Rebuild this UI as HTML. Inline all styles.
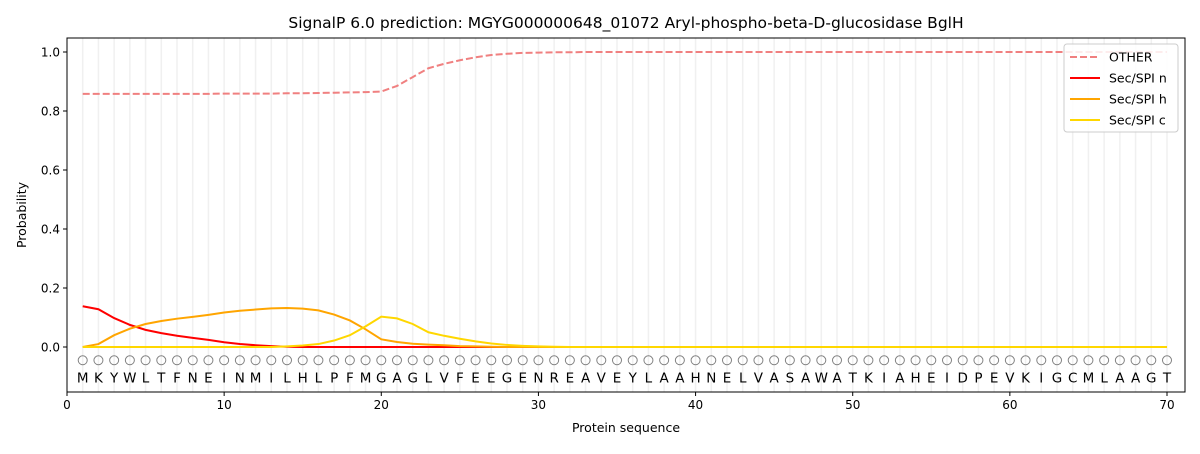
<!DOCTYPE html>
<html><head><meta charset="utf-8"><style>
body{margin:0;background:#fff;font-family:"DejaVu Sans","Liberation Sans",sans-serif}
</style></head><body>
<svg id="chart" width="1200" height="450" xmlns="http://www.w3.org/2000/svg" font-family="DejaVu Sans, Liberation Sans, sans-serif"></svg>
<script>
const residues="MKYWLTFNEINMILHLPFMGAGLVFEEGENREAVEYLAAHNELVASAWATKIAHEIDPEVKIGCMLAAGT".split("");
const otherVals=[0.858,0.858,0.858,0.858,0.858,0.858,0.858,0.858,0.858,0.859,0.859,0.859,0.859,0.86,0.86,0.861,0.862,0.863,0.864,0.866,0.885,0.915,0.945,0.96,0.972,0.982,0.99,0.994,0.997,0.998,0.999,0.999,1,1,1,1,1,1,1,1,1,1,1,1,1,1,1,1,1,1,1,1,1,1,1,1,1,1,1,1,1,1,1,1,1,1,1,1,1,1];
const secN=[0.138,0.128,0.098,0.075,0.058,0.047,0.038,0.031,0.024,0.016,0.01,0.006,0.003,0.001,0,0,0,0,0,0,0,0,0,0,0,0,0,0,0,0,0,0,0,0,0,0,0,0,0,0,0,0,0,0,0,0,0,0,0,0,0,0,0,0,0,0,0,0,0,0,0,0,0,0,0,0,0,0,0,0];
const secH=[0,0.01,0.04,0.062,0.078,0.088,0.096,0.102,0.109,0.117,0.123,0.127,0.131,0.132,0.13,0.124,0.11,0.09,0.06,0.026,0.017,0.011,0.008,0.006,0.003,0.002,0.001,0,0,0,0,0,0,0,0,0,0,0,0,0,0,0,0,0,0,0,0,0,0,0,0,0,0,0,0,0,0,0,0,0,0,0,0,0,0,0,0,0,0,0];
const secC=[0,0,0,0,0,0,0,0,0,0,0,0,0,0.002,0.005,0.01,0.022,0.04,0.07,0.103,0.097,0.078,0.05,0.038,0.028,0.019,0.012,0.007,0.004,0.002,0.001,0,0,0,0,0,0,0,0,0,0,0,0,0,0,0,0,0,0,0,0,0,0,0,0,0,0,0,0,0,0,0,0,0,0,0,0,0,0,0];
const xTicks=[0,10,20,30,40,50,60,70];
const yTicks=[0,0.2,0.4,0.6,0.8,1.0];
const NS="http://www.w3.org/2000/svg";
const svg=document.getElementById("chart");
const L=67,R=1185,T=38,B=392;
const X=v=>67+v*(1167-67)/70;
const Y=v=>347-v*295;
function el(tag,attrs,parent){const e=document.createElementNS(NS,tag);for(const k in attrs)e.setAttribute(k,attrs[k]);(parent||svg).appendChild(e);return e;}
const title=el("text",{x:626,y:28,"text-anchor":"middle","font-size":15.5,fill:"#000"});


title.textContent="SignalP 6.0 prediction: MGYG000000648_01072 Aryl-phospho-beta-D-glucosidase BglH";
residues.forEach((r,i)=>{
  const x=X(i+1);
  const g=el("line",{x1:x,x2:x,y1:T,y2:B,stroke:"#f0f0f0","stroke-width":1.5});
  
  
  const c=el("circle",{cx:x,cy:Y(-0.045),r:4.5,fill:"none",stroke:"#808080","stroke-width":1});
  
  
  const t=el("text",{x:x,y:Y(-0.1)+6,"text-anchor":"middle","font-size":13.5,fill:"#000"});
  
  
  t.textContent=r;
});
function line(vals,color,dash,name){
  const p=el("polyline",{points:vals.map((v,i)=>X(i+1)+","+Y(v)).join(" "),fill:"none",stroke:color,"stroke-width":2});
  if(dash)p.setAttribute("stroke-dasharray",dash);
  
  
}
line(otherVals,"#f08080","7,3","other-line");
line(secN,"#ff0000",null,"sec-spi-n-line");
line(secH,"#ffa500",null,"sec-spi-h-line");
line(secC,"#ffd700",null,"sec-spi-c-line");
const frame=el("rect",{x:L,y:T,width:R-L,height:B-T,fill:"none",stroke:"#000","stroke-width":1});


xTicks.forEach(v=>{
  el("line",{x1:X(v),x2:X(v),y1:B,y2:B+4,stroke:"#000"});
  const t=el("text",{x:X(v),y:B+17,"text-anchor":"middle","font-size":12});
  
  
  t.textContent=v;
});
yTicks.forEach(v=>{
  el("line",{x1:L-4,x2:L,y1:Y(v),y2:Y(v),stroke:"#000"});
  const t=el("text",{x:L-7,y:Y(v)+4.5,"text-anchor":"end","font-size":12});
  
  
  t.textContent=v.toFixed(1);
});
const xt=el("text",{x:626,y:432,"text-anchor":"middle","font-size":12.5});


xt.textContent="Protein sequence";
const yt=el("text",{x:26,y:215,"text-anchor":"middle","font-size":12.5,transform:"rotate(-90 26 215)"});


yt.textContent="Probability";
const lg=el("g",{});


el("rect",{x:1064,y:44,width:114,height:88,rx:3,fill:"#fff","fill-opacity":0.85,stroke:"#ccc"},lg);
[["OTHER","#f08080","7,3"],["Sec/SPI n","#ff0000",null],["Sec/SPI h","#ffa500",null],["Sec/SPI c","#ffd700",null]].forEach((d,i)=>{
  const y=57+i*21;
  const l=el("line",{x1:1070,x2:1100,y1:y,y2:y,stroke:d[1],"stroke-width":2},lg);
  if(d[2])l.setAttribute("stroke-dasharray",d[2]);
  const t=el("text",{x:1109,y:y+4.5,"font-size":12.5},lg);
  
  
  t.textContent=d[0];
});
</script>
</body></html>
